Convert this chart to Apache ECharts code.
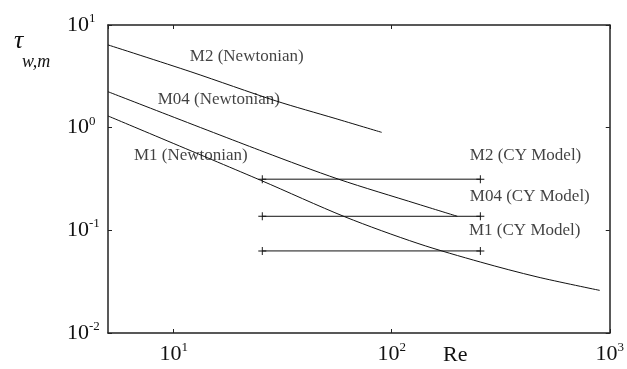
<!DOCTYPE html>
<html>
<head>
<meta charset="utf-8">
<script src="https://cdn.jsdelivr.net/npm/echarts@6/dist/echarts.min.js"></script>
<style>
  html, body { margin: 0; padding: 0; background: #fff; }
  #chart { width: 627px; height: 369px; }
</style>
</head>
<body>
<div id="chart"></div>
<script>
// Wall shear stress vs. Reynolds number, log-log
const m2Newtonian = [[5, 6.4], [12, 3.5], [29.5, 1.82], [55, 1.23], [90, 0.9]];
const m04Newtonian = [[5, 2.24], [26, 0.58], [57, 0.315], [132, 0.18], [200, 0.137]];
const m1Newtonian = [[5, 1.3], [25, 0.308], [61, 0.1355], [132, 0.0745], [256, 0.049], [464, 0.0352], [900, 0.026]];

const cyRange = [25.5, 255];
const m2CY = 0.315;
const m04CY = 0.137;
const m1CY = 0.063;

// Curve annotations: [Re, tau, text]
const annotations = [
  [11.8, 4.88, 'M2 (Newtonian)'],
  [8.4, 1.86, 'M04 (Newtonian)'],
  [6.54, 0.541, 'M1 (Newtonian)'],
  [227, 0.532, 'M2 (CY Model)'],
  [227, 0.212, 'M04 (CY Model)'],
  [225, 0.0988, 'M1 (CY Model)']
];

const SERIF = '"Liberation Serif", "DejaVu Serif", serif';
const INK = '#111';
const TEXT = '#111';

const powLabel = {
  formatter: v => '{b|10}{s|' + Math.round(Math.log10(v)) + '}',
  rich: {
    b: { fontFamily: SERIF, fontSize: 22, lineHeight: 26, color: TEXT },
    s: { fontFamily: SERIF, fontSize: 13, lineHeight: 12, verticalAlign: 'top', color: TEXT }
  }
};

const plusSymbol = 'path://M0,4.4h10v1.2h-10z M4.4,0h1.2v10h-1.2z';

function flat(y) {
  return cyRange.map(x => [x, y]);
}

function curve(data) {
  return {
    type: 'line', data, smooth: 0.3, symbol: 'none',
    lineStyle: { color: INK, width: 1 }, silent: true
  };
}

function cyLine(y) {
  return {
    type: 'line', data: flat(y), symbol: plusSymbol, symbolSize: 8,
    itemStyle: { color: INK }, lineStyle: { color: INK, width: 1 }, silent: true
  };
}

const frameAxis = {
  axisLine: { show: true, lineStyle: { color: '#222', width: 1.5 } },
  axisTick: { show: true, inside: true, length: 4, lineStyle: { color: '#222', width: 1 } },
  splitLine: { show: false },
  minorTick: { show: false }
};

const chart = echarts.init(document.getElementById('chart'), null, { renderer: 'canvas' });

chart.setOption({
  animation: false,
  backgroundColor: '#fff',
  grid: { left: 108, right: 14, top: 25, bottom: 36 },
  xAxis: [
    Object.assign({
      type: 'log', logBase: 10, min: 5, max: 1000, splitNumber: 2,
      position: 'bottom',
      axisLabel: Object.assign({ margin: 8, showMinLabel: false }, powLabel)
    }, frameAxis),
    Object.assign({
      type: 'log', logBase: 10, min: 5, max: 1000, splitNumber: 2,
      position: 'top', axisLabel: { show: false }
    }, frameAxis)
  ],
  yAxis: [
    Object.assign({
      type: 'log', logBase: 10, min: 0.01, max: 10, splitNumber: 3,
      position: 'left',
      axisLabel: Object.assign({ margin: 41, align: 'left' }, powLabel)
    }, frameAxis),
    Object.assign({
      type: 'log', logBase: 10, min: 0.01, max: 10, splitNumber: 3,
      position: 'right', axisLabel: { show: false }
    }, frameAxis)
  ],
  graphic: [
    {
      type: 'text', left: 443, top: 344,
      style: { text: 'Re', font: '22px ' + SERIF, fill: TEXT }
    },
    {
      type: 'text', left: 14, top: 28,
      style: { text: 'τ', font: 'italic 26px ' + SERIF, fill: TEXT }
    },
    {
      type: 'text', left: 22, top: 53,
      style: { text: 'w,m', font: 'italic 18px ' + SERIF, fill: TEXT }
    }
  ],
  series: [
    curve(m2Newtonian),
    curve(m04Newtonian),
    curve(m1Newtonian),
    cyLine(m2CY),
    cyLine(m04CY),
    cyLine(m1CY),
    {
      type: 'scatter', silent: true, symbolSize: 1,
      itemStyle: { color: 'rgba(0,0,0,0)' },
      data: annotations.map(a => ({ value: [a[0], a[1]], name: a[2] })),
      label: {
        show: true, position: 'right', distance: 0,
        formatter: p => p.name,
        fontFamily: SERIF, fontSize: 17, color: TEXT
      }
    }
  ]
});
</script>
</body>
</html>
